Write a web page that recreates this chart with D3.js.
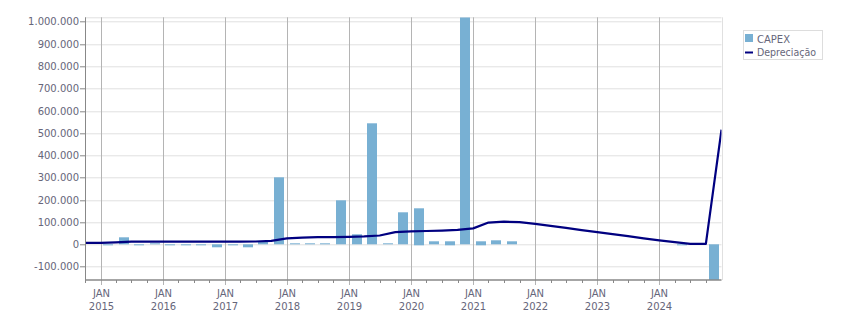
<!DOCTYPE html>
<html>
<head>
<meta charset="utf-8">
<script src="https://cdn.jsdelivr.net/npm/d3@7"></script>
<style>
  html, body { margin: 0; padding: 0; background: #fff; }
  svg { display: block; font-family: "DejaVu Sans", sans-serif; }
</style>
</head>
<body>
<svg id="chart" width="851" height="313"></svg>
<script>
// ---- data ----
const quarters = [
  "2015-Q1","2015-Q2","2015-Q3","2015-Q4",
  "2016-Q1","2016-Q2","2016-Q3","2016-Q4",
  "2017-Q1","2017-Q2","2017-Q3","2017-Q4",
  "2018-Q1","2018-Q2","2018-Q3","2018-Q4",
  "2019-Q1","2019-Q2","2019-Q3","2019-Q4",
  "2020-Q1","2020-Q2","2020-Q3","2020-Q4",
  "2021-Q1","2021-Q2","2021-Q3","2021-Q4",
  "2022-Q1","2022-Q2","2022-Q3","2022-Q4",
  "2023-Q1","2023-Q2","2023-Q3","2023-Q4",
  "2024-Q1","2024-Q2","2024-Q3","2024-Q4"
];
const capex = [
  -4000, 33000, -3000, 3000,
  -3000, -3000, -3000, -15000,
  -3000, -13000, 15000, 302000,
  5000, 5000, 5000, 196000,
  46000, 544000, 6000, 142000,
  164000, 12000, 16000, 1018000,
  16000, 20000, 12000, null,
  null, null, null, null,
  null, null, null, null,
  null, 2000, null, -165000
];
const lineDates = [
  "2014-10","2015-01","2015-04","2015-07","2015-10",
  "2016-01","2016-04","2016-07","2016-10",
  "2017-01","2017-04","2017-07","2017-10",
  "2018-01","2018-04","2018-07","2018-10",
  "2019-01","2019-04","2019-07","2019-10",
  "2020-01","2020-04","2020-07","2020-10",
  "2021-01","2021-04","2021-07","2021-10",
  "2022-01","2022-04","2022-07","2022-10",
  "2023-01","2023-04","2023-07","2023-10",
  "2024-01","2024-04","2024-07","2024-10",
  "2025-01"
];
const depreciacao = [
  7000, 7000, 9000, 12000, 12000,
  12000, 12000, 12000, 12000,
  12000, 12000, 13000, 16000,
  27000, 30000, 33000, 33000,
  34000, 36000, 40000, 55000,
  58000, 60000, 62000, 65000,
  72000, 98000, 102000, 100000,
  92000, 83000, 74000, 64000,
  55000, 46000, 37000, 27000,
  18000, 10000, 2000, 2000,
  515000
];
const yearTicks = ["2015","2016","2017","2018","2019","2020","2021","2022","2023","2024"];
const yTicks = [-100000,0,100000,200000,300000,400000,500000,600000,700000,800000,900000,1000000];
const seriesNames = ["CAPEX", "Depreciação"];

// ---- layout ----
const W = 851, H = 313;
const m = {left: 85, right: 129.5, top: 17.3, bottom: 33};
const iw = W - m.left - m.right, ih = H - m.top - m.bottom;
const barColor = "#78b0d3", lineColor = "#000080", textColor = "#66667a";

const parseM = d3.timeParse("%Y-%m");
const qStart = q => new Date(+q.slice(0,4), (+q.slice(6)-1)*3, 1);

const x = d3.scaleTime().domain([parseM("2014-10"), parseM("2025-01")]).range([0, iw]);
const y = d3.scaleLinear().domain([-160000, 1020000]).range([ih, 0]);

const loc = d3.formatLocale({decimal: ",", thousands: ".", grouping: [3], currency: ["", ""], minus: "-"});
const fmt = loc.format(",d");

const svg = d3.select("#chart");
const g = svg.append("g").attr("transform", `translate(${m.left},${m.top})`);

// clip
svg.append("defs").append("clipPath").attr("id", "clip")
  .append("rect").attr("x", 0).attr("y", 0).attr("width", iw).attr("height", ih);

// horizontal grid
g.append("g").selectAll("line").data(yTicks).join("line")
  .attr("x1", 0).attr("x2", iw)
  .attr("y1", d => Math.round(y(d)) + 0.5).attr("y2", d => Math.round(y(d)) + 0.5)
  .attr("stroke", "#e0e0e0");
// top & right border
g.append("line").attr("x1", 0).attr("x2", iw).attr("y1", 0.5).attr("y2", 0.5).attr("stroke", "#e0e0e0");
g.append("line").attr("x1", Math.round(iw) + 0.5).attr("x2", Math.round(iw) + 0.5).attr("y1", 0).attr("y2", ih).attr("stroke", "#e0e0e0");

// vertical grid at years
const yearDates = yearTicks.map(t => new Date(+t, 0, 1));
g.append("g").selectAll("line").data(yearDates).join("line")
  .attr("x1", d => Math.round(x(d)) + 0.5).attr("x2", d => Math.round(x(d)) + 0.5)
  .attr("y1", 0).attr("y2", ih + 5)
  .attr("stroke", "#b4b4b4");

// bars
const barW = 10;
const plot = g.append("g").attr("clip-path", "url(#clip)");
const barData = quarters.map((q, i) => ({q, v: capex[i]})).filter(d => d.v !== null);
plot.append("g").selectAll("rect").data(barData).join("rect")
  .attr("x", d => {
    const s = qStart(d.q), e = d3.timeMonth.offset(s, 3);
    return Math.round((x(s) + x(e)) / 2 - barW / 2);
  })
  .attr("width", barW)
  .attr("y", d => Math.round(y(Math.max(0, d.v))))
  .attr("height", d => Math.max(1, Math.round(Math.abs(y(d.v) - y(0)))))
  .attr("fill", barColor);

// line
const lineData = lineDates.map((d, i) => ({d: parseM(d), v: depreciacao[i]}));
plot.append("path").datum(lineData)
  .attr("fill", "none").attr("stroke", lineColor).attr("stroke-width", 2.2)
  .attr("stroke-linejoin", "round")
  .attr("d", d3.line().x(d => x(d.d)).y(d => y(d.v)));

// y axis
const yAxisG = g.append("g");
yAxisG.append("line").attr("x1", 0.5).attr("x2", 0.5).attr("y1", 0).attr("y2", ih).attr("stroke", "#888");
const yt = yAxisG.selectAll("g.t").data(yTicks).join("g").attr("class", "t")
  .attr("transform", d => `translate(0,${Math.round(y(d)) + 0.5})`);
yt.append("line").attr("x1", -5).attr("x2", 0).attr("stroke", "#888");
yt.append("text").attr("x", -6).attr("dy", "0.35em").attr("text-anchor", "end")
  .attr("fill", textColor).attr("font-size", 10).text(d => fmt(d));

// x axis
const xAxisG = g.append("g").attr("transform", `translate(0,${ih})`);
xAxisG.append("line").attr("x1", 0).attr("x2", iw).attr("y1", 0).attr("y2", 0).attr("stroke", "#888").attr("stroke-width", 1.5);
const minor = d3.timeMonth.every(3).range(parseM("2014-10"), parseM("2025-01"))
  .filter(d => d.getMonth() !== 0);
xAxisG.selectAll("line.minor").data(minor).join("line").attr("class", "minor")
  .attr("x1", d => Math.round(x(d)) + 0.5).attr("x2", d => Math.round(x(d)) + 0.5)
  .attr("y1", 0).attr("y2", 3).attr("stroke", "#888");
const xt = xAxisG.selectAll("g.t").data(yearTicks).join("g").attr("class", "t")
  .attr("transform", t => `translate(${Math.round(x(new Date(+t, 0, 1))) + 0.5},0)`);
xt.append("text").attr("y", 17).attr("text-anchor", "middle").attr("fill", textColor).attr("font-size", 10).text("JAN");
xt.append("text").attr("y", 30).attr("text-anchor", "middle").attr("fill", textColor).attr("font-size", 10).text(t => t);

// legend
const lg = svg.append("g");
lg.append("rect").attr("x", 743.5).attr("y", 30.5).attr("width", 79).attr("height", 29)
  .attr("fill", "#fff").attr("stroke", "#dddddd");
lg.append("rect").attr("x", 745).attr("y", 34).attr("width", 8).attr("height", 8).attr("fill", barColor);
lg.append("text").attr("x", 757).attr("y", 42.5).attr("fill", textColor).attr("font-size", 10).text(seriesNames[0]);
lg.append("line").attr("x1", 745).attr("x2", 753).attr("y1", 52.5).attr("y2", 52.5).attr("stroke", lineColor).attr("stroke-width", 2);
lg.append("text").attr("x", 757).attr("y", 56).attr("fill", textColor).attr("font-size", 10)
  .attr("textLength", 59).attr("lengthAdjust", "spacingAndGlyphs").text(seriesNames[1]);
</script>
</body>
</html>
